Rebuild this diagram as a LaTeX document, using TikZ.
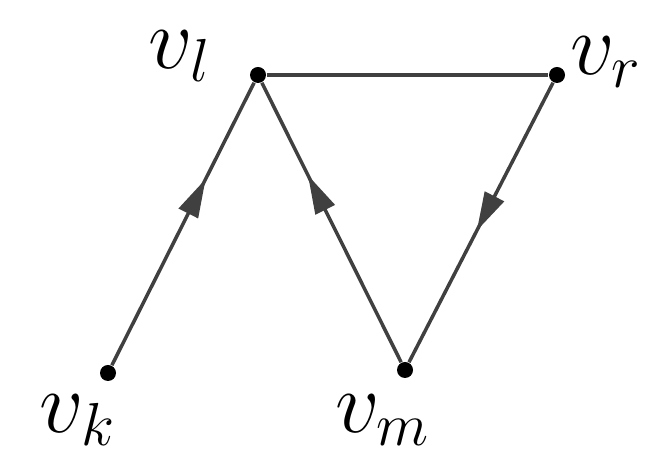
\documentclass[tikz,border=0pt]{standalone}
\usepackage{amsmath}
\usetikzlibrary{arrows.meta,decorations.markings}
\tikzset{
	vdot/.style={circle, fill=black, inner sep=0pt, minimum size=0.16cm},
	vlbl/.style={inner sep=0pt, font=\fontsize{23}{28}\selectfont},
	edge/.style={draw=black!75, line width=1pt},
	midarr/.style={edge, postaction={decorate}, decoration={markings,
		mark=at position #1 with {\arrow{Triangle[length=11pt,width=6pt]}}}},
}
\begin{document}
\begin{tikzpicture}
	\useasboundingbox (0,0) rectangle (6.47,4.6);
	% vertices
	\node[vdot] at (2.58,3.85) (vl) {};
	\node[vdot] at (5.57,3.85) (vr) {};
	\node[vdot] at (1.08,0.87) (vk) {};
	\node[vdot] at (4.05,0.90) (vm) {};

	% labels
	\node[vlbl] at (1.80,4.04) (lvl) {$v_l$};
	\node[vlbl] at (6.06,3.98) (lvr) {$v_r$};
	\node[vlbl] at (0.78,0.40) (lvk) {$v_k$};
	\node[vlbl] at (3.83,0.40) (lvm) {$v_m$};

	% edges
	\draw[edge] (vl) -- (vr);
	\draw[midarr=0.66] (vk) -- (vl);
	\draw[midarr=0.67] (vm) -- (vl);
	\draw[midarr=0.53] (vr) -- (vm);
\end{tikzpicture}
\end{document}
